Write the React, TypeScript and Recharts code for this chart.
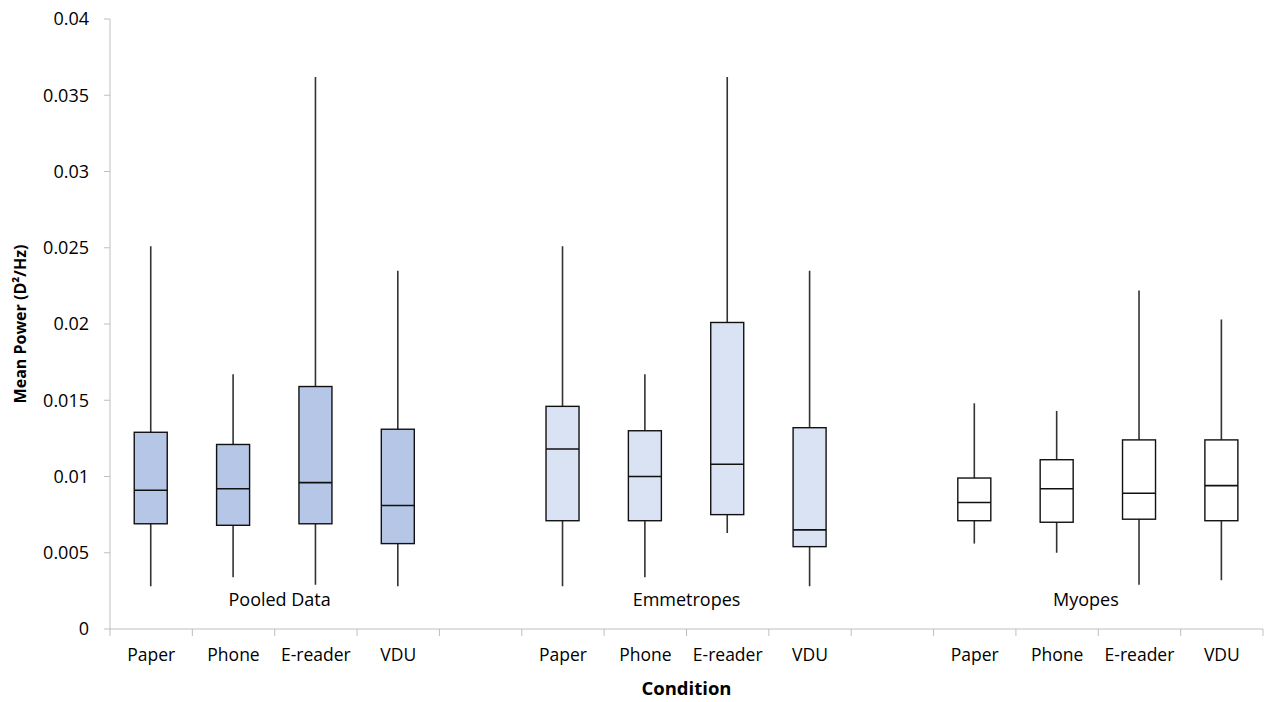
import { ComposedChart, Bar, Scatter, XAxis, YAxis, Label } from 'recharts';

// categories inside each group, and group names
const conditions = ['Paper', 'Phone', 'E-reader', 'VDU'];
const groups = ['Pooled Data', 'Emmetropes', 'Myopes'];

// [min, q1, median, q3, max] per condition
const pooled = [
  [0.0028, 0.0069, 0.0091, 0.0129, 0.0251],
  [0.0034, 0.0068, 0.0092, 0.0121, 0.0167],
  [0.0029, 0.0069, 0.0096, 0.0159, 0.0362],
  [0.0028, 0.0056, 0.0081, 0.0131, 0.0235],
];
const emmetropes = [
  [0.0028, 0.0071, 0.0118, 0.0146, 0.0251],
  [0.0034, 0.0071, 0.01, 0.013, 0.0167],
  [0.0063, 0.0075, 0.0108, 0.0201, 0.0362],
  [0.0028, 0.0054, 0.0065, 0.0132, 0.0235],
];
const myopes = [
  [0.0056, 0.0071, 0.0083, 0.0099, 0.0148],
  [0.005, 0.007, 0.0092, 0.0111, 0.0143],
  [0.0029, 0.0072, 0.0089, 0.0124, 0.0222],
  [0.0032, 0.0071, 0.0094, 0.0124, 0.0203],
];

// where the group captions sit (x in slots, y in data units)
const groupLabelX = [2.06, 7.0, 11.85];
const groupLabelY = 0.0019;

const yTicks = [0, 0.005, 0.01, 0.015, 0.02, 0.025, 0.03, 0.035, 0.04];

const W = 1264;
const H = 702;
const M = { top: 19, right: 1, left: 0, bottom: 0 };
const Y_AXIS_W = 110;
const SLOTS = 14;
const HALF_BAND = (W - Y_AXIS_W - M.right) / SLOTS / 2;

const fills = ['#b6c6e6', '#dae3f3', '#ffffff'];
const FONT = '"Open Sans", sans-serif';

const slotLabels: string[] = [];
for (let s = 0; s < SLOTS; s++) slotLabels.push(s % 5 < 4 ? conditions[s % 5] : '');

const boxData = [pooled, emmetropes, myopes].flatMap((rows, g) =>
  rows.map((r, i) => ({
    pos: g * 5 + i + 0.5,
    group: g,
    min: r[0],
    q1: r[1],
    median: r[2],
    q3: r[3],
    max: r[4],
  }))
);

const captionData = groups.map((name, i) => ({ pos: groupLabelX[i], y: groupLabelY, name }));

const BoxShape = (props: any) => {
  const { x, y, width, height, payload } = props;
  if (x == null || y == null) return null;
  const top = Math.min(y, y + height);
  const h = Math.abs(height);
  const span = payload.max - payload.min;
  const toY = (v: number) => top + (h * (payload.max - v)) / span;
  const cx = x + width / 2;
  const bw = 33;
  const yq3 = toY(payload.q3);
  const yq1 = toY(payload.q1);
  const ymed = toY(payload.median);
  return (
    <g>
      <line x1={cx} x2={cx} y1={toY(payload.max)} y2={toY(payload.min)} stroke="#333" strokeWidth={1.6} />
      <rect x={cx - bw / 2} y={yq3} width={bw} height={yq1 - yq3} fill={fills[payload.group]} stroke="#111" strokeWidth={1.4} />
      <line x1={cx - bw / 2} x2={cx + bw / 2} y1={ymed} y2={ymed} stroke="#111" strokeWidth={1.6} />
    </g>
  );
};

const CaptionShape = (props: any) => {
  const { cx, cy, payload } = props;
  return (
    <text x={cx} y={cy} dy="0.35em" textAnchor="middle" fontSize={18} fill="#000" fontFamily={FONT}>
      {payload.name}
    </text>
  );
};

const SlotTick = (props: any) => {
  const { x, y, payload } = props;
  const label = slotLabels[payload.value];
  if (!label) return null;
  return (
    <text x={x + HALF_BAND} y={y} dy="0.71em" textAnchor="middle" fontSize={17.5} fill="#000" fontFamily={FONT}>
      {label}
    </text>
  );
};

const xTicks = Array.from({ length: SLOTS + 1 }, (_, i) => i);

export default function App() {
  return (
    <div style={{ position: 'absolute', left: 0, top: 0, background: '#fff' }}>
      <ComposedChart width={W} height={H} data={boxData} margin={M}>
        <XAxis
          xAxisId={0}
          dataKey="pos"
          type="number"
          domain={[0, SLOTS]}
          ticks={xTicks}
          interval={0}
          height={73}
          stroke="#bfbfbf"
          tickSize={7}
          tickMargin={13}
          tick={<SlotTick />}
        >
          <Label value="Condition" position="insideBottom" offset={7} style={{ fontSize: 18.5, fontWeight: 'bold', fill: '#000', fontFamily: FONT }} />
        </XAxis>
        <YAxis
          yAxisId={0}
          type="number"
          domain={[0, 0.04]}
          ticks={yTicks}
          interval={0}
          width={Y_AXIS_W}
          stroke="#bfbfbf"
          tickSize={6}
          tickMargin={15}
          tick={{ fontSize: 18, fill: '#000', fontFamily: FONT }}
        >
          <Label
            value="Mean Power (D²/Hz)"
            angle={-90}
            position="insideLeft"
            offset={20}
            style={{ textAnchor: 'middle', fontSize: 16, fontWeight: 'bold', fill: '#000', fontFamily: FONT }}
          />
        </YAxis>
        <Bar
          dataKey={(d: any) => [d.min, d.max]}
          barSize={33}
          shape={<BoxShape />}
          isAnimationActive={false}
        />
        <Scatter data={captionData} dataKey="y" shape={<CaptionShape />} isAnimationActive={false} />
      </ComposedChart>
    </div>
  );
}
